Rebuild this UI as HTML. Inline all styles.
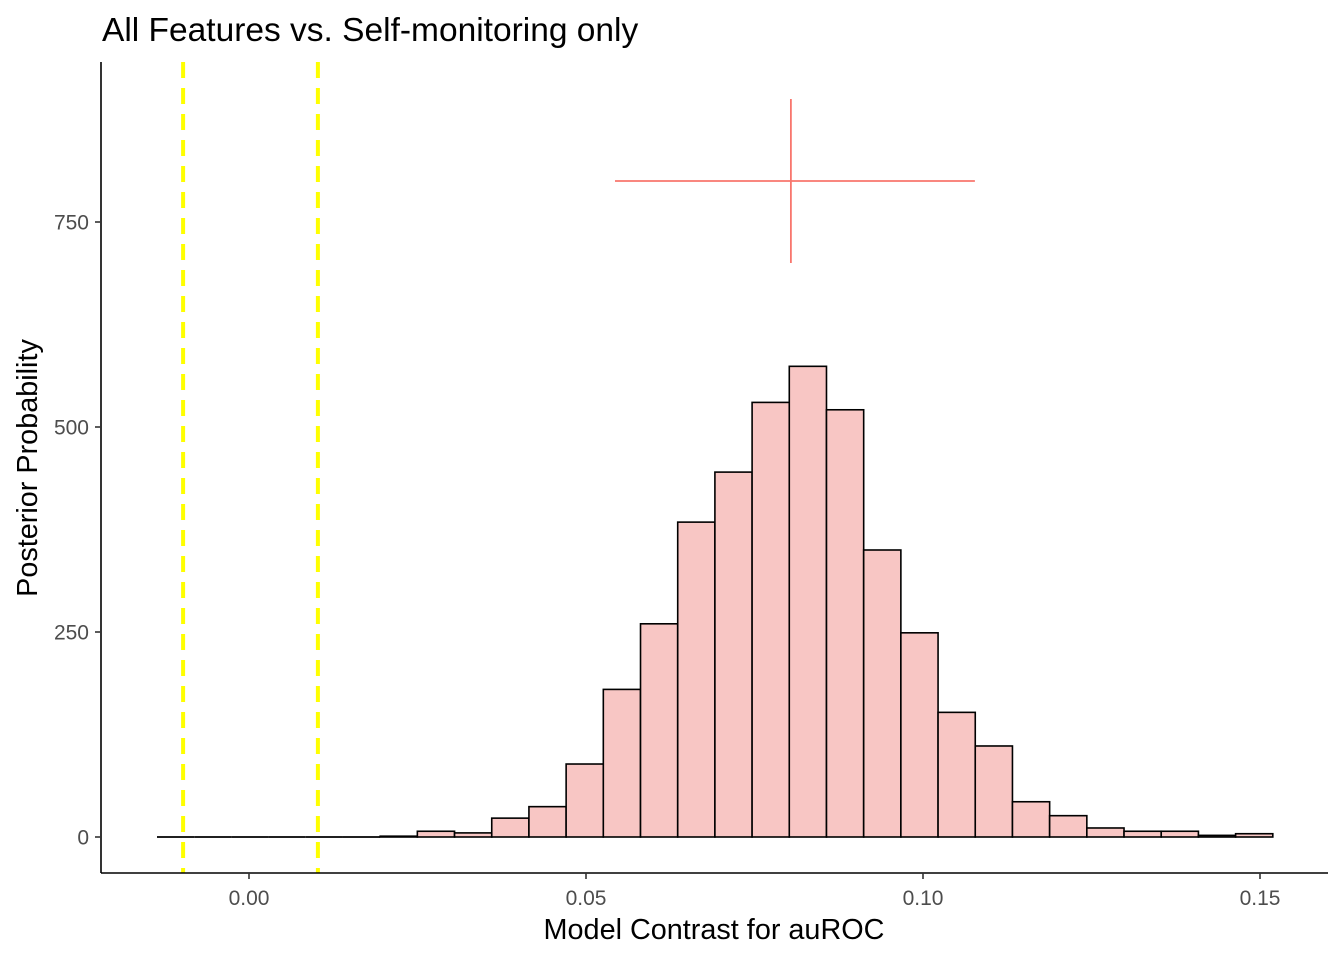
<!DOCTYPE html>
<html><head><meta charset="utf-8"><style>
body{margin:0;background:#fff;}
svg text{font-family:"Liberation Sans",Arial,sans-serif;}
</style></head><body>
<svg id="chart" width="1344" height="960" xmlns="http://www.w3.org/2000/svg">
<rect width="1344" height="960" fill="#fff"/>
<text x="102" y="41" font-size="33.5" fill="#000">All Features vs. Self-monitoring only</text>
<g id="bars"></g>
<g id="overlay"></g>
<line x1="101" y1="62" x2="101" y2="873" stroke="#000" stroke-width="1.6"/>
<line x1="101" y1="873" x2="1328" y2="873" stroke="#000" stroke-width="1.6"/>
<g id="xticks"></g>
<g id="yticks"></g>
<text x="714" y="939" font-size="28.8" text-anchor="middle" fill="#000">Model Contrast for auROC</text>
<text transform="translate(37,468) rotate(-90)" font-size="28.8" text-anchor="middle" fill="#000">Posterior Probability</text>
</svg>
<script>
const binStart = -0.01365;
const binEnd = 0.1519;
const counts = [0,0,0,0,0,0,1,7,5,23,37,89,180,260,384,445,530,574,521,350,249,152,111,43,26,11,7,7,2,4];
const xTicks = [0, 0.05, 0.10, 0.15];
const xTickLabels = ["0.00","0.05","0.10","0.15"];
const yTicks = [0, 250, 500, 750];
const yTickLabels = ["0","250","500","750"];
const ropeLines = [-0.01, 0.01];
const crossCenter = [0.0804, 800];
const crossXRange = [0.0543, 0.1077];
const crossYRange = [700, 900];

const NS = "http://www.w3.org/2000/svg";
const xS = v => 249 + v * 6740;
const yS = v => 837 - v * 0.82;
function mk(tag, attrs, parent) {
  const e = document.createElementNS(NS, tag);
  for (const k in attrs) e.setAttribute(k, attrs[k]);
  parent.appendChild(e);
  return e;
}
const bars = document.getElementById('bars');
const w = (binEnd - binStart) / counts.length;
counts.forEach((c, i) => {
  const x0 = xS(binStart + i * w), x1 = xS(binStart + (i + 1) * w);
  if (c > 0) {
    const r = mk('rect', {x: x0, y: yS(c), width: x1 - x0, height: yS(0) - yS(c), fill: '#f8c6c4', stroke: '#000', 'stroke-width': 1.6}, bars);
    
    
  } else {
    const l = mk('line', {x1: x0, x2: x1, y1: yS(0), y2: yS(0), stroke: '#000', 'stroke-width': 1.8}, bars);
    
    
  }
});
const ov = document.getElementById('overlay');
ropeLines.forEach(v => {
  const l = mk('line', {x1: xS(v) + 1.5, x2: xS(v) + 1.5, y1: 62, y2: 873, stroke: '#ffff00', 'stroke-width': 4, 'stroke-dasharray': '16,10'}, ov);
  
  
});
const h = mk('line', {x1: xS(crossXRange[0]), x2: xS(crossXRange[1]), y1: yS(crossCenter[1]), y2: yS(crossCenter[1]), stroke: '#f8766d', 'stroke-width': 1.8}, ov);


const vv = mk('line', {x1: xS(crossCenter[0]), x2: xS(crossCenter[0]), y1: yS(crossYRange[1]), y2: yS(crossYRange[0]), stroke: '#f8766d', 'stroke-width': 1.8}, ov);


const xt = document.getElementById('xticks');
xTicks.forEach((v, i) => {
  mk('line', {x1: xS(v), x2: xS(v), y1: 873, y2: 879, stroke: '#333', 'stroke-width': 1.6}, xt);
  const t = mk('text', {x: xS(v), y: 905, 'font-size': 21, 'text-anchor': 'middle', fill: '#4d4d4d'}, xt);
  t.textContent = xTickLabels[i];
  
  
});
const yt = document.getElementById('yticks');
yTicks.forEach((v, i) => {
  mk('line', {x1: 95, x2: 101, y1: yS(v), y2: yS(v), stroke: '#333', 'stroke-width': 1.6}, yt);
  const t = mk('text', {x: 89, y: yS(v) + 7.5, 'font-size': 21, 'text-anchor': 'end', fill: '#4d4d4d'}, yt);
  t.textContent = yTickLabels[i];
  
  
});
</script>
</body></html>
